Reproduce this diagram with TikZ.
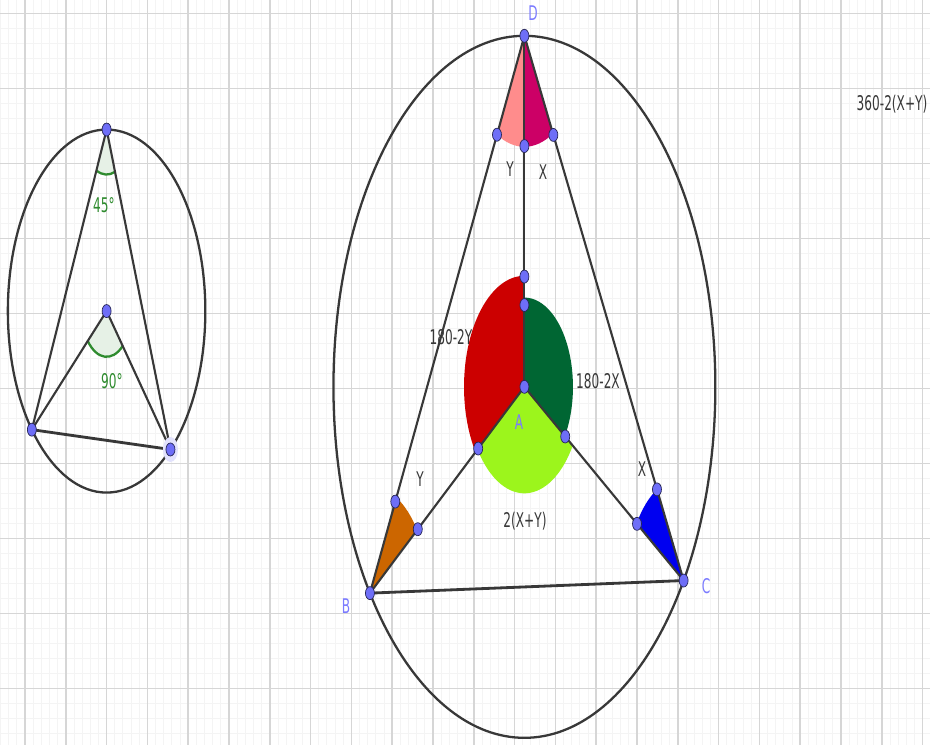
\documentclass[tikz,border=0pt]{standalone}
\usepackage{fontspec}
\setmainfont{DejaVu Sans}
\usetikzlibrary{calc}
\definecolor{ggline}{HTML}{383838}
\definecolor{ggpoint}{HTML}{6E6EF7}
\definecolor{gglabel}{HTML}{7B7BFF}
\definecolor{angpink}{HTML}{FF8C8C}
\definecolor{angmag}{HTML}{CC0066}
\definecolor{angred}{HTML}{CC0000}
\definecolor{angdkgreen}{HTML}{006633}
\definecolor{anglime}{HTML}{9CF51C}
\definecolor{angorange}{HTML}{CC6600}
\definecolor{angblue}{HTML}{0000F0}
\definecolor{anggreen}{HTML}{2E8B2E}
\newcommand{\ggtext}[1]{\scalebox{0.6}[1]{#1}}
\newcommand{\ggdot}[1]{\path[gpt] (#1) ellipse[x radius=0.09cm,y radius=0.13cm];}

\begin{document}
\begin{tikzpicture}[x=0.816cm,y=1.5cm,
    gpt/.style={fill=ggpoint,draw=ggpoint!35!black,line width=0.4pt},
    seg/.style={draw=ggline,line width=1.2pt},
    circ/.style={draw=ggline,line width=1.3pt},
    lbl/.style={font=\fontsize{11.5}{13}\selectfont,text=ggline,inner sep=0pt},
    ptlbl/.style={lbl,text=gglabel},
    anglbl/.style={lbl,text=anggreen}]
  \useasboundingbox (-0.6127,0.1773) rectangle (22.181,-9.7427);
  \fill[white] (-0.6127,0.1773) rectangle (22.181,-9.7427);

  % grid
  \begin{scope}
    \clip (-0.6127,0.1773) rectangle (22.181,-9.7427);
    \draw[gray!9,line width=0.5pt,step=0.2] (-1,1) grid (23,-10);
    \draw[gray!32,line width=0.9pt,step=1] (-1,1) grid (23,-10);
  \end{scope}

  % left figure
  \coordinate (O1) at (2.0,-3.97);
  \coordinate (P1) at ($(O1)+(90:2.42)$);
  \coordinate (Q1) at ($(O1)+(220.8:2.42)$);
  \coordinate (S1) at ($(O1)+(310.3:2.42)$);
  \draw[circ] (O1) circle[radius=2.42];
  \fill[anggreen!12] (P1) -- ++(245.4:0.6) arc[start angle=245.4,end angle=290.15,radius=0.6] -- cycle;
  \fill[anggreen!12] (O1) -- ++(220.8:0.61) arc[start angle=220.8,end angle=310.3,radius=0.61] -- cycle;
  \draw[anggreen,line width=1.3pt] (P1) ++(245.4:0.6) arc[start angle=245.4,end angle=290.15,radius=0.6];
  \draw[anggreen,line width=1.3pt] (O1) ++(220.8:0.61) arc[start angle=220.8,end angle=310.3,radius=0.61];
  \draw[seg] (P1) -- (Q1);
  \draw[seg] (P1) -- (S1);
  \draw[seg] (O1) -- (Q1);
  \draw[seg] (O1) -- (S1);
  \draw[seg,line width=1.6pt] (Q1) -- (S1);
  \fill[ggpoint!20] (S1) ellipse[x radius=0.15cm,y radius=0.25cm];
  \foreach \p in {O1,P1,Q1,S1} {\ggdot{\p}}
  \node[anglbl] (lbl45) at (1.936,-2.556) {\ggtext{45°}};
  \node[anglbl] (lbl90) at (2.132,-4.903) {\ggtext{90°}};

  % right figure
  \coordinate (A) at (12.24,-4.98);
  \coordinate (D) at ($(A)+(90:4.68)$);
  \coordinate (B) at ($(A)+(216:4.68)$);
  \coordinate (C) at ($(A)+(326.5:4.68)$);
  \draw[circ] (A) circle[radius=4.68];

  % sectors
  \fill[angpink] (D) -- ++(243:1.48) arc[start angle=243,end angle=270,radius=1.48] -- cycle;
  \fill[angmag] (D) -- ++(270:1.48) arc[start angle=270,end angle=298.25,radius=1.48] -- cycle;
  \fill[angred] (A) -- ++(90:1.48) arc[start angle=90,end angle=216,radius=1.48] -- cycle;
  \fill[angdkgreen] (A) -- ++(-33.5:1.19) arc[start angle=-33.5,end angle=90,radius=1.19] -- cycle;
  \fill[anglime] (A) -- ++(216:1.42) arc[start angle=216,end angle=326.5,radius=1.42] -- cycle;
  \fill[angorange] (B) -- ++(36:1.43) arc[start angle=36,end angle=63,radius=1.43] -- cycle;
  \fill[angblue] (C) -- ++(118.25:1.38) arc[start angle=118.25,end angle=146.5,radius=1.38] -- cycle;

  \draw[seg] (D) -- (B);
  \draw[seg] (D) -- (C);
  \draw[seg] (D) -- (A);
  \draw[seg] (A) -- (B);
  \draw[seg] (A) -- (C);
  \draw[seg,line width=1.6pt] (B) -- (C);

  % points on the sides
  \path (D) ++(243:1.48) coordinate (Dy);
  \path (D) ++(298.25:1.5) coordinate (Dx);
  \path (D) ++(270:1.47) coordinate (Dm);
  \path (A) ++(90:1.47) coordinate (Ar);
  \path (A) ++(90:1.09) coordinate (Ag);
  \path (A) ++(216:1.40) coordinate (Ab);
  \path (A) ++(326.5:1.2) coordinate (Ac);
  \path (B) ++(63:1.37) coordinate (Bd);
  \path (B) ++(36:1.45) coordinate (Ba);
  \path (C) ++(118.25:1.38) coordinate (Cd);
  \path (C) ++(146.5:1.37) coordinate (Ca);
  \foreach \p in {A,B,C,D,Dy,Dx,Dm,Ar,Ag,Ab,Ac,Bd,Ba,Cd,Ca} {\ggdot{\p}}

  % labels
  \node[ptlbl] (lblD) at (12.45,0.0) {\ggtext{D}};
  \node[ptlbl] (lblA) at (12.108,-5.449) {\ggtext{A}};
  \node[ptlbl] (lblB) at (7.868,-7.903) {\ggtext{B}};
  \node[ptlbl] (lblC) at (16.691,-7.636) {\ggtext{C}};
  \node[lbl] (lblDy) at (11.887,-2.076) {\ggtext{Y}};
  \node[lbl] (lblDx) at (12.696,-2.116) {\ggtext{X}};
  \node[lbl] (lblBy) at (9.681,-6.209) {\ggtext{Y}};
  \node[lbl] (lblCx) at (15.123,-6.076) {\ggtext{X}};
  \node[lbl] (lblRed) at (10.441,-4.316) {\ggtext{180-2Y}};
  \node[lbl] (lblGreen) at (14.044,-4.903) {\ggtext{180-2X}};
  \node[lbl] (lblLime) at (12.255,-6.769) {\ggtext{2(X+Y)}};
  \node[lbl] (lblOut) at (21.25,-1.209) {\ggtext{360-2(X+Y)}};
\end{tikzpicture}
\end{document}
